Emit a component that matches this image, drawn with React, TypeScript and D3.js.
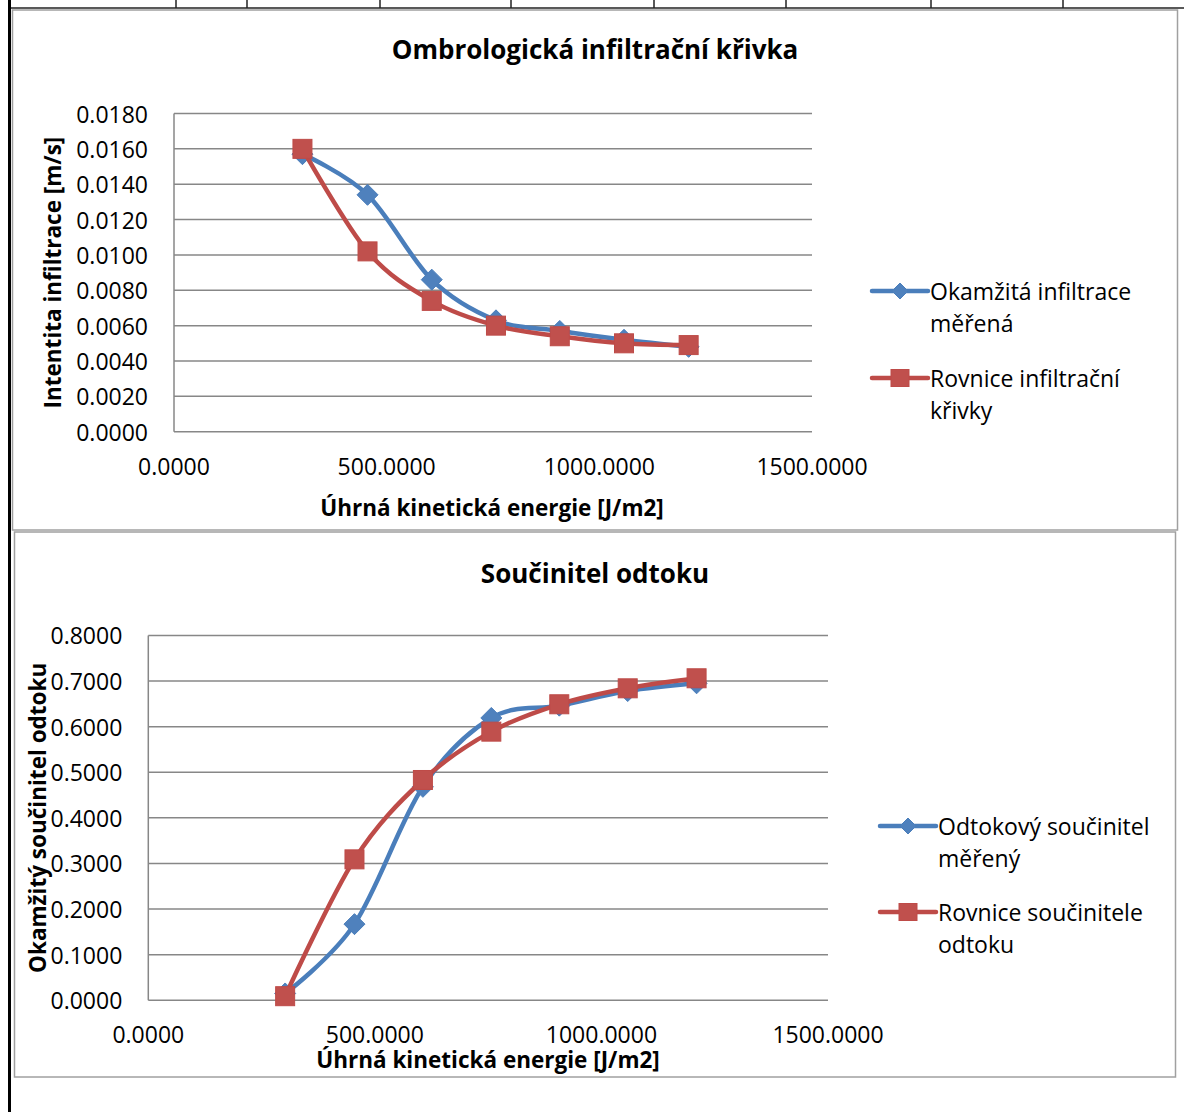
import React from "react";
import * as d3 from "d3";

const energy = [302, 455, 606, 757, 907, 1058, 1210];
const infMeasured = [0.0157, 0.0134, 0.0086, 0.0063, 0.0057, 0.0052, 0.0048];
const infEquation = [0.016, 0.0102, 0.0074, 0.006, 0.0054, 0.005, 0.0049];
const runoffMeasured = [0.015, 0.167, 0.468, 0.619, 0.646, 0.678, 0.695];
const runoffEquation = [0.009, 0.309, 0.483, 0.589, 0.649, 0.684, 0.706];

const xTicks = [0, 500, 1000, 1500];
const infTicks = [0, 0.002, 0.004, 0.006, 0.008, 0.01, 0.012, 0.014, 0.016, 0.018];
const runoffTicks = [0, 0.1, 0.2, 0.3, 0.4, 0.5, 0.6, 0.7, 0.8];
const tableCols = [176, 247, 380, 511, 654, 786, 931, 1063];

const BLUE_LINE = "#4A7EBB";
const BLUE_FILL = "#4F81BD";
const RED_LINE = "#BE4B48";
const RED_FILL = "#C0504D";
const GRID = "#878787";
const FONT = "'Open Sans', sans-serif";

type ChartProps = {
  title: string;
  titleY: number;
  yTitle: string;
  yTitleX: number;
  xTitleY: number;
  xTitleX: number;
  left: number;
  right: number;
  top: number;
  bottom: number;
  yMax: number;
  yTicks: number[];
  xLabelY: number;
  measured: number[];
  equation: number[];
  legend: [string, string][];
  legendX: number;
  legendY: [number, number];
};

function Diamond({ x, y, r, fill }: { x: number; y: number; r: number; fill: string }) {
  return (
    <path
      d={`M${x},${y - r}L${x + r},${y}L${x},${y + r}L${x - r},${y}Z`}
      fill={fill}
      stroke={BLUE_LINE}
      strokeWidth={1}
    />
  );
}

function Chart(p: ChartProps) {
  const x = d3.scaleLinear().domain([0, 1500]).range([p.left, p.right]);
  const y = d3.scaleLinear().domain([0, p.yMax]).range([p.bottom, p.top]);
  const line = d3
    .line<[number, number]>()
    .x((d) => x(d[0]))
    .y((d) => y(d[1]))
    .curve(d3.curveCardinal.tension(0));
  const mPts = energy.map((e, i) => [e, p.measured[i]] as [number, number]);
  const ePts = energy.map((e, i) => [e, p.equation[i]] as [number, number]);
  const [lx, ly] = [p.legendX, p.legendY];
  return (
    <g fontFamily={FONT}>
      <text x={595} y={p.titleY} textAnchor="middle" dominantBaseline="central" fontWeight="bold" fontSize={26}>
        {p.title}
      </text>
      {p.yTicks.map((t) => (
        <g key={t}>
          <line x1={p.left} x2={p.right} y1={y(t)} y2={y(t)} stroke={GRID} strokeWidth={1.5} />
          <text x={p.left - 26} y={y(t)} textAnchor="end" dominantBaseline="central" fontSize={23}>
            {t.toFixed(4)}
          </text>
        </g>
      ))}
      <line x1={p.left} x2={p.left} y1={p.top} y2={p.bottom} stroke={GRID} strokeWidth={1.5} />
      {xTicks.map((t) => (
        <text key={t} x={x(t)} y={p.xLabelY} textAnchor="middle" dominantBaseline="central" fontSize={23}>
          {t.toFixed(4)}
        </text>
      ))}
      <text x={p.xTitleX} y={p.xTitleY} textAnchor="middle" dominantBaseline="central" fontWeight="bold" fontSize={22.5}>
        Úhrná kinetická energie [J/m2]
      </text>
      <text
        transform={`translate(${p.yTitleX},${(p.top + p.bottom) / 2}) rotate(-90)`}
        textAnchor="middle"
        dominantBaseline="central"
        fontWeight="bold"
        fontSize={22.5}
      >
        {p.yTitle}
      </text>
      <path d={line(mPts) || ""} fill="none" stroke={BLUE_LINE} strokeWidth={4.5} strokeLinejoin="round" strokeLinecap="round" />
      {mPts.map((d, i) => (
        <Diamond key={i} x={x(d[0])} y={y(d[1])} r={10.5} fill={BLUE_FILL} />
      ))}
      <path d={line(ePts) || ""} fill="none" stroke={RED_LINE} strokeWidth={4.5} strokeLinejoin="round" strokeLinecap="round" />
      {ePts.map((d, i) => (
        <rect key={i} x={x(d[0]) - 9.5} y={y(d[1]) - 9.5} width={19} height={19} fill={RED_FILL} stroke={RED_LINE} strokeWidth={1} />
      ))}
      {/* legend */}
      <line x1={lx} x2={lx + 56} y1={ly[0]} y2={ly[0]} stroke={BLUE_LINE} strokeWidth={4.5} strokeLinecap="round" />
      <Diamond x={lx + 28} y={ly[0]} r={8} fill={BLUE_FILL} />
      <text x={lx + 58} y={ly[0]} dominantBaseline="central" fontSize={23}>
        {p.legend[0][0]}
      </text>
      <text x={lx + 58} y={ly[0] + 31.5} dominantBaseline="central" fontSize={23}>
        {p.legend[0][1]}
      </text>
      <line x1={lx} x2={lx + 56} y1={ly[1]} y2={ly[1]} stroke={RED_LINE} strokeWidth={4.5} strokeLinecap="round" />
      <rect x={lx + 19} y={ly[1] - 8.5} width={18} height={17} fill={RED_FILL} stroke={RED_LINE} strokeWidth={1} />
      <text x={lx + 58} y={ly[1]} dominantBaseline="central" fontSize={23}>
        {p.legend[1][0]}
      </text>
      <text x={lx + 58} y={ly[1] + 31.5} dominantBaseline="central" fontSize={23}>
        {p.legend[1][1]}
      </text>
    </g>
  );
}

export default function App() {
  return (
    <div style={{ position: "absolute", left: 0, top: 0 }}>
      <svg width={1184} height={1112} style={{ display: "block", background: "#fff" }}>
        {/* table remnant at top */}
        <line x1={8} x2={1184} y1={8} y2={8} stroke="#222" strokeWidth={1.5} />
        {tableCols.map((c) => (
          <line key={c} x1={c} x2={c} y1={0} y2={8} stroke="#222" strokeWidth={1.5} />
        ))}
        <line x1={9.5} x2={9.5} y1={0} y2={1112} stroke="#000" strokeWidth={3} />
        {/* chart frames */}
        <rect x={12.5} y={10} width={1165} height={520} fill="#fff" stroke="#a0a0a0" strokeWidth={1.5} />
        <rect x={14.5} y={532} width={1161} height={545} fill="#fff" stroke="#a0a0a0" strokeWidth={1.5} />
        <Chart
          title="Ombrologická infiltrační křivka"
          titleY={49}
          yTitle="Intentita infiltrace [m/s]"
          yTitleX={52}
          xTitleX={492}
          xTitleY={507}
          left={174}
          right={812}
          top={113.5}
          bottom={431.7}
          yMax={0.018}
          yTicks={infTicks}
          xLabelY={466}
          measured={infMeasured}
          equation={infEquation}
          legend={[
            ["Okamžitá infiltrace", "měřená"],
            ["Rovnice infiltrační", "křivky"],
          ]}
          legendX={872}
          legendY={[291, 378]}
        />
        <Chart
          title="Součinitel odtoku"
          titleY={573}
          yTitle="Okamžitý součinitel odtoku"
          yTitleX={37}
          xTitleX={488}
          xTitleY={1059}
          left={148.3}
          right={828}
          top={635.4}
          bottom={1000.3}
          yMax={0.8}
          yTicks={runoffTicks}
          xLabelY={1034}
          measured={runoffMeasured}
          equation={runoffEquation}
          legend={[
            ["Odtokový součinitel", "měřený"],
            ["Rovnice součinitele", "odtoku"],
          ]}
          legendX={880}
          legendY={[826, 912]}
        />
      </svg>
    </div>
  );
}
